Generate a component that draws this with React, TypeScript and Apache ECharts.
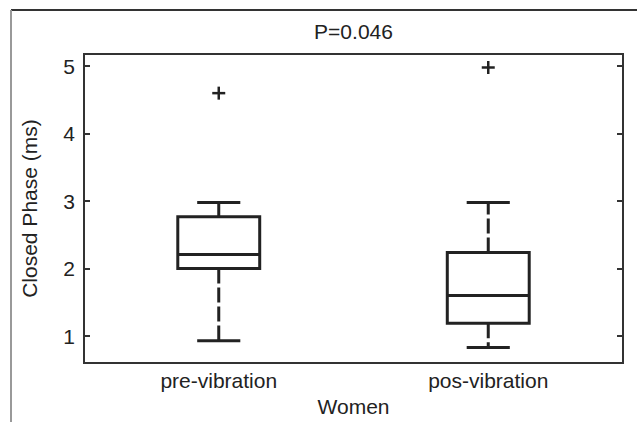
import React, { useEffect, useRef } from "react";
import * as echarts from "echarts";

const categories = ["pre-vibration", "pos-vibration"];
const whiskerLow = [0.93, 0.83];
const quartile1 = [2.0, 1.19];
const medians = [2.21, 1.6];
const quartile3 = [2.77, 2.24];
const whiskerHigh = [2.98, 2.98];
const outlierCategory = [0, 1];
const outlierValues = [4.6, 4.98];
const yTicks = [1, 2, 3, 4, 5];

const FONT = "Liberation Sans, Arial, Helvetica, sans-serif";
const INK = "#222";
const FS = 21;

export default function App() {
  const ref = useRef<HTMLDivElement>(null);
  useEffect(() => {
    if (!ref.current) return;
    const chart = echarts.init(ref.current, undefined, { renderer: "svg" });
    const boxData = categories.map((_, i) => [
      i,
      whiskerLow[i],
      quartile1[i],
      medians[i],
      quartile3[i],
      whiskerHigh[i],
    ]);
    const outData = outlierCategory.map((c, i) => [c, outlierValues[i]]);
    const yAxisCommon = {
      type: "value",
      min: 0.6,
      max: 5.18,
      minInterval: 1,
      maxInterval: 1,
      splitLine: { show: false },
      axisLine: { show: false },
      axisTick: {
        show: true,
        inside: true,
        length: 6,
        lineStyle: { color: "#333", width: 2 },
        customValues: yTicks,
      },
    };
    const option: any = {
      animation: false,
      backgroundColor: "#fff",
      grid: {
        left: 84,
        top: 54,
        right: 14,
        bottom: 50,
        show: true,
        borderColor: "#333",
        borderWidth: 2,
        backgroundColor: "transparent",
      },
      graphic: [
        {
          type: "line",
          shape: { x1: 11, y1: 10, x2: 637, y2: 10 },
          style: { stroke: "#333", lineWidth: 2 },
        },
        {
          type: "line",
          shape: { x1: 11, y1: 10, x2: 11, y2: 422 },
          style: { stroke: "#999", lineWidth: 2 },
        },
        {
          type: "text",
          x: 353.5,
          y: 31,
          style: {
            text: "P=0.046",
            font: `${FS}px ${FONT}`,
            fill: INK,
            textAlign: "center",
            textVerticalAlign: "middle",
          },
        },
      ],
      xAxis: {
        type: "category",
        data: categories,
        name: "Women",
        nameLocation: "middle",
        nameGap: 28,
        nameTextStyle: { fontFamily: FONT, fontSize: FS, color: INK },
        axisLine: { show: false },
        axisTick: { show: false },
        splitLine: { show: false },
        axisLabel: { fontFamily: FONT, fontSize: FS, color: INK, margin: 7 },
      },
      yAxis: [
        {
          ...yAxisCommon,
          position: "left",
          name: "Closed Phase (ms)",
          nameLocation: "middle",
          nameGap: 44,
          nameTextStyle: { fontFamily: FONT, fontSize: FS, color: INK },
          axisLabel: {
            fontFamily: FONT,
            fontSize: FS,
            color: INK,
            margin: 9,
            customValues: yTicks,
          },
        },
        {
          ...yAxisCommon,
          position: "right",
          axisLabel: { show: false },
        },
      ],
      series: [
        {
          type: "custom",
          data: boxData,
          encode: { x: 0, y: [1, 2, 3, 4, 5] },
          renderItem: (params: any, api: any) => {
            const idx = api.value(0);
            const band = api.size([1, 0])[0];
            const halfBox = band * 0.152;
            const halfCap = band * 0.08;
            const pLow = api.coord([idx, api.value(1)]);
            const pQ1 = api.coord([idx, api.value(2)]);
            const pMed = api.coord([idx, api.value(3)]);
            const pQ3 = api.coord([idx, api.value(4)]);
            const pHigh = api.coord([idx, api.value(5)]);
            const cx = pMed[0];
            const solid = { stroke: INK, lineWidth: 3, fill: "none" };
            const dashed = { stroke: INK, lineWidth: 3, lineDash: [15, 4] };
            return {
              type: "group",
              children: [
                {
                  type: "line",
                  shape: { x1: cx, y1: pQ3[1], x2: cx, y2: pHigh[1] },
                  style: dashed,
                },
                {
                  type: "line",
                  shape: { x1: cx, y1: pQ1[1], x2: cx, y2: pLow[1] },
                  style: dashed,
                },
                {
                  type: "rect",
                  shape: {
                    x: cx - halfBox,
                    y: pQ3[1],
                    width: halfBox * 2,
                    height: pQ1[1] - pQ3[1],
                  },
                  style: solid,
                },
                {
                  type: "line",
                  shape: { x1: cx - halfBox, y1: pMed[1], x2: cx + halfBox, y2: pMed[1] },
                  style: solid,
                },
                {
                  type: "line",
                  shape: { x1: cx - halfCap, y1: pHigh[1], x2: cx + halfCap, y2: pHigh[1] },
                  style: solid,
                },
                {
                  type: "line",
                  shape: { x1: cx - halfCap, y1: pLow[1], x2: cx + halfCap, y2: pLow[1] },
                  style: solid,
                },
              ],
            };
          },
        },
        {
          type: "custom",
          data: outData,
          encode: { x: 0, y: 1 },
          renderItem: (params: any, api: any) => {
            const p = api.coord([api.value(0), api.value(1)]);
            const s = 6.5;
            const st = { stroke: INK, lineWidth: 2.5 };
            return {
              type: "group",
              children: [
                { type: "line", shape: { x1: p[0] - s, y1: p[1], x2: p[0] + s, y2: p[1] }, style: st },
                { type: "line", shape: { x1: p[0], y1: p[1] - s, x2: p[0], y2: p[1] + s }, style: st },
              ],
            };
          },
        },
      ],
    };
    chart.setOption(option);
    return () => chart.dispose();
  }, []);
  return <div ref={ref} style={{ width: 637, height: 422, position: "fixed", left: 0, top: 0 }} />;
}
